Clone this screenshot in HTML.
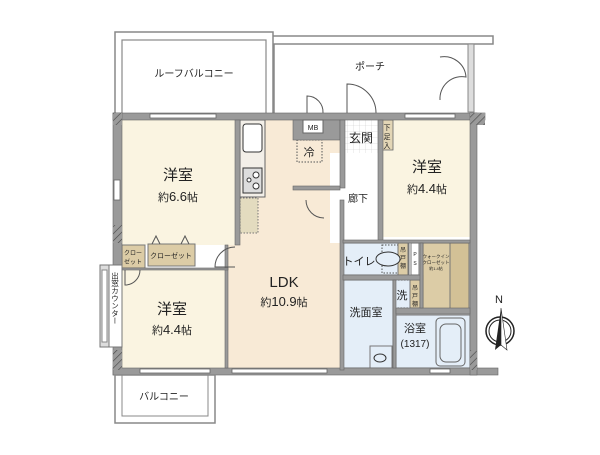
<!DOCTYPE html>
<html><head><meta charset="utf-8"><style>
body{margin:0;background:#fff;}
svg text{font-family:"Liberation Sans","Noto Sans CJK JP",sans-serif;fill:#222;}
</style></head><body>
<svg width="600" height="450" viewBox="0 0 600 450" xmlns="http://www.w3.org/2000/svg">
<defs>
<pattern id="hatch" width="5" height="5" patternUnits="userSpaceOnUse" patternTransform="rotate(45)">
<rect width="5" height="5" fill="#9a9a9a"/><line x1="0" y1="0" x2="0" y2="5" stroke="#444" stroke-width="1.2"/></pattern>
<pattern id="tile" width="6" height="6" patternUnits="userSpaceOnUse"><rect width="6" height="6" fill="#fff"/><path d="M6 0V6H0" fill="none" stroke="#ccc" stroke-width="0.6"/></pattern>
</defs>
<!-- roof balcony -->
<rect x="115" y="32" width="158" height="82" fill="none" stroke="#888" stroke-width="1.5"/>
<rect x="122" y="40" width="144" height="74" fill="none" stroke="#888" stroke-width="1.2"/>
<text x="194" y="77" font-size="10" text-anchor="middle">ルーフバルコニー</text>
<!-- porch -->
<path d="M273 36 H493 V44 H274 V114" fill="none" stroke="#888" stroke-width="1.5"/>
<rect x="468" y="44" width="6" height="68" fill="#ddd" stroke="#888"/>
<text x="370" y="70" font-size="10" text-anchor="middle">ポーチ</text>
<path d="M440 57 A22 22 0 0 1 466 77 A22 22 0 0 0 440 100" fill="none" stroke="#555"/>
<!-- doors porch -->
<path d="M307 113 V96 A16 16 0 0 1 323 113" fill="none" stroke="#555"/>
<path d="M347 113 V84 A29 29 0 0 1 376 113" fill="none" stroke="#555"/>
<!-- floor fills -->
<rect x="122" y="120" width="113" height="125" fill="#faf4e1"/>
<rect x="240" y="120" width="100" height="250" fill="#f8ead6"/>
<rect x="228" y="245" width="115" height="125" fill="#f8ead6"/>
<rect x="122" y="270" width="103" height="98" fill="#faf4e1"/>
<rect x="383" y="120" width="87" height="117" fill="#faf4e1"/>
<rect x="330" y="153" width="50" height="90" fill="#fff"/>
<rect x="345" y="120" width="33" height="33" fill="url(#tile)"/>
<rect x="381" y="120" width="12" height="30" fill="#e3d6b6" stroke="#666" stroke-width="0.8"/>
<text x="387" y="130" font-size="7" text-anchor="middle">下</text><text x="387" y="139" font-size="7" text-anchor="middle">足</text><text x="387" y="148" font-size="7" text-anchor="middle">入</text>
<text x="361" y="142" font-size="12" text-anchor="middle">玄関</text>
<!-- wet areas -->
<rect x="343" y="243" width="66" height="32" fill="#e4eef8" stroke="#777"/>
<rect x="411" y="243" width="8" height="32" fill="#fff" stroke="#777"/>
<rect x="423" y="243" width="46" height="66" fill="#dccca6" stroke="#777"/>
<rect x="450" y="243" width="19" height="66" fill="#d3c196" stroke="#777"/>
<rect x="343" y="280" width="50" height="88" fill="#e4eef8" stroke="#777"/>
<rect x="395" y="280" width="15" height="28" fill="#e4eef8" stroke="#555" stroke-dasharray="1.5,1.5"/>
<rect x="410" y="280" width="10" height="28" fill="#dccca6" stroke="#777"/>
<rect x="396" y="315" width="74" height="53" fill="#e4eef8" stroke="#777"/>
<rect x="436" y="318" width="29" height="48" rx="4" fill="#e4eef8" stroke="#666"/>
<rect x="440" y="324" width="21" height="38" rx="6" fill="none" stroke="#666"/>
<rect x="382" y="245" width="16" height="28" fill="none" stroke="#555" stroke-dasharray="1.5,1.5"/>
<rect x="398" y="243" width="10" height="32" fill="#dccca6" stroke="#777"/>
<ellipse cx="388" cy="259" rx="12" ry="7" fill="#e4eef8" stroke="#333"/>
<text x="359" y="265" font-size="11" text-anchor="middle">トイレ</text>
<text x="403" y="252" font-size="6" text-anchor="middle">吊</text><text x="403" y="260" font-size="6" text-anchor="middle">戸</text><text x="403" y="268" font-size="6" text-anchor="middle">棚</text>
<text x="415" y="256" font-size="5" text-anchor="middle">P</text><text x="415" y="265" font-size="5" text-anchor="middle">S</text>
<text x="436" y="258" font-size="4.5" text-anchor="middle">ウォークイン</text>
<text x="436" y="264" font-size="4.5" text-anchor="middle">クローゼット</text>
<text x="436" y="270" font-size="4" text-anchor="middle">約1.4帖</text>
<text x="402" y="299" font-size="11" text-anchor="middle">洗</text>
<text x="415" y="290" font-size="6" text-anchor="middle">吊</text><text x="415" y="298" font-size="6" text-anchor="middle">戸</text><text x="415" y="306" font-size="6" text-anchor="middle">棚</text>
<text x="366" y="316" font-size="11" text-anchor="middle">洗面室</text>
<text x="415" y="332" font-size="11" text-anchor="middle">浴室</text>
<text x="415" y="347" font-size="10" text-anchor="middle">(1317)</text>
<rect x="370" y="346" width="22" height="22" fill="none" stroke="#777"/>
<ellipse cx="380" cy="358" rx="6" ry="4" fill="none" stroke="#333"/>
<!-- kitchen -->
<rect x="240" y="120" width="25" height="77" fill="#f3efe8" stroke="#666"/>
<rect x="243" y="124" width="19" height="28" rx="3" fill="#fff" stroke="#333"/>
<rect x="243" y="168" width="19" height="25" fill="#ddd" stroke="#333"/>
<circle cx="256" cy="175" r="3" fill="#fff" stroke="#333"/><circle cx="256" cy="186" r="3" fill="#fff" stroke="#333"/><circle cx="249" cy="180" r="2" fill="#fff" stroke="#333"/>
<rect x="240" y="198" width="18" height="35" fill="#e3dbbf" stroke="#777" stroke-dasharray="1.5,1.5"/>
<rect x="297" y="140" width="25" height="22" fill="none" stroke="#555" stroke-dasharray="1.5,1.5"/>
<text x="309" y="156" font-size="11" text-anchor="middle">冷</text>
<!-- closets -->
<rect x="122" y="245" width="23" height="23" fill="#dccca6" stroke="#777"/>
<text x="133" y="255" font-size="6" text-anchor="middle">クロー</text><text x="133" y="264" font-size="6" text-anchor="middle">ゼット</text>
<rect x="148" y="244" width="47" height="22" fill="#dccca6" stroke="#777"/>
<text x="171" y="258" font-size="7" text-anchor="middle">クローゼット</text>
<path d="M152 244 L156 236 L160 244 M181 244 L185 236 L189 244" fill="none" stroke="#555"/>
<!-- walls -->
<g fill="#9a9a9a" stroke="#666" stroke-width="0.6">
<rect x="113" y="113" width="372" height="7"/>
<rect x="113" y="113" width="9" height="262"/>
<rect x="113" y="368" width="385" height="7"/>
<rect x="470" y="113" width="7" height="262"/>
<rect x="235" y="120" width="5" height="125"/>
<rect x="293" y="120" width="47" height="20"/>
<rect x="340" y="120" width="5" height="68"/>
<rect x="293" y="186" width="47" height="4"/>
<rect x="378" y="120" width="5" height="122"/>
<rect x="340" y="200" width="4" height="170"/>
<rect x="343" y="240" width="127" height="3"/>
<rect x="343" y="275" width="80" height="5"/>
<rect x="393" y="280" width="3" height="88"/>
<rect x="396" y="308" width="74" height="6"/>
<rect x="420" y="243" width="3" height="65"/>
<rect x="225" y="245" width="3" height="123"/>
<rect x="122" y="268" width="106" height="2"/>
</g>
<rect x="303" y="120" width="20" height="13" fill="#fff" stroke="#666"/>
<text x="313" y="130" font-size="7" text-anchor="middle">MB</text>
<rect x="113" y="113" width="9" height="12" fill="url(#hatch)"/>
<rect x="113" y="225" width="9" height="18" fill="url(#hatch)"/>
<rect x="113" y="350" width="9" height="20" fill="url(#hatch)"/>
<rect x="470" y="113" width="15" height="12" fill="url(#hatch)"/>
<rect x="470" y="350" width="7" height="20" fill="url(#hatch)"/>
<!-- windows -->
<g fill="#fff" stroke="#666" stroke-width="0.8">
<rect x="150" y="114" width="66" height="4"/><rect x="405" y="114" width="50" height="4"/>
<rect x="140" y="369" width="70" height="4"/><rect x="232" y="369" width="95" height="4"/><rect x="430" y="369" width="20" height="4"/>
<rect x="114" y="180" width="6" height="20"/>
</g>
<!-- bay window -->
<rect x="100" y="265" width="22" height="82" fill="#fff" stroke="#777"/>
<rect x="100" y="265" width="9" height="82" fill="#ddd" stroke="#777"/>
<rect x="102" y="270" width="5" height="72" fill="#fff" stroke="#888"/>
<text x="115" y="272" font-size="7.5" style="writing-mode:vertical-rl">出窓カウンター</text>
<!-- doors -->
<path d="M235 247 A20 20 0 0 0 215 267 H235" fill="none" stroke="#555"/>
<path d="M306 200 A18 18 0 0 0 324 218" fill="none" stroke="#555"/>
<path d="M125 270 V285 A15 15 0 0 0 140 270" fill="none" stroke="#555"/>
<!-- room labels -->
<text x="178" y="180" font-size="15" text-anchor="middle">洋室</text>
<text x="178" y="201" font-size="11" text-anchor="middle">約<tspan font-size="13">6.6</tspan>帖</text>
<text x="427" y="172" font-size="15" text-anchor="middle">洋室</text>
<text x="427" y="193" font-size="11" text-anchor="middle">約<tspan font-size="13">4.4</tspan>帖</text>
<text x="172" y="314" font-size="15" text-anchor="middle">洋室</text>
<text x="172" y="334" font-size="11" text-anchor="middle">約<tspan font-size="13">4.4</tspan>帖</text>
<text x="284" y="287" font-size="15" text-anchor="middle">LDK</text>
<text x="284" y="306" font-size="11" text-anchor="middle">約<tspan font-size="13">10.9</tspan>帖</text>
<text x="358" y="202" font-size="10" text-anchor="middle">廊下</text>
<!-- balcony -->
<rect x="115" y="375" width="100" height="48" fill="none" stroke="#888" stroke-width="1.5"/>
<rect x="122" y="375" width="86" height="41" fill="none" stroke="#888"/>
<text x="164" y="400" font-size="10" text-anchor="middle">バルコニー</text>
<!-- compass -->
<text x="499" y="303" font-size="11" text-anchor="middle" font-family="Liberation Serif">N</text>
<circle cx="500" cy="331" r="14" fill="none" stroke="#222" stroke-width="1.5"/>
<circle cx="500" cy="331" r="11" fill="none" stroke="#222"/>
<path d="M501 308 L495 350 L501 345 Z" fill="#222"/><path d="M501 308 L507 350 L501 345 Z" fill="#fff" stroke="#222" stroke-width="0.6"/>
</svg>
</body></html>
